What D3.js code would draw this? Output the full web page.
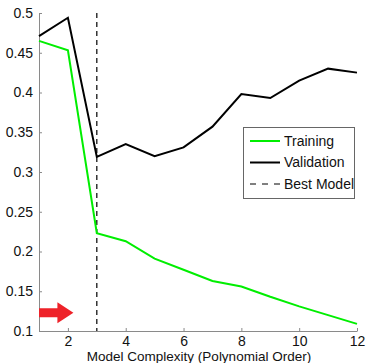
<!DOCTYPE html>
<html>
<head>
<meta charset="utf-8">
<script src="https://cdn.jsdelivr.net/npm/d3@7"></script>
<style>
  html, body { margin: 0; padding: 0; background: #fff; }
  svg { display: block; font-family: "Liberation Sans", Arial, sans-serif; }
</style>
</head>
<body>
<div id="chart"></div>
<script>
// -----------------------------
// DATA
// -----------------------------
const orders = [1, 2, 3, 4, 5, 6, 7, 8, 9, 10, 11, 12];
const training = [0.465, 0.453, 0.223, 0.213, 0.191, 0.177, 0.163, 0.156, 0.143, 0.131, 0.120, 0.109];
const validation = [0.471, 0.494, 0.319, 0.335, 0.320, 0.331, 0.357, 0.398, 0.393, 0.415, 0.430, 0.425];
const bestModel = 3;
const xTicks = [2, 4, 6, 8, 10, 12];
const yTicks = [0.1, 0.15, 0.2, 0.25, 0.3, 0.35, 0.4, 0.45, 0.5];
const legendLabels = ["Training", "Validation", "Best Model"];
const arrowSpan = [1, 2.19];
const arrowLevel = 0.123;

const width = 367, height = 363;
const margin = { top: 13, right: 10, bottom: 32, left: 39 };

const svg = d3.select("#chart").append("svg")
    .attr("width", width)
    .attr("height", height);

const x = d3.scaleLinear().domain([1, 12]).range([margin.left, width - margin.right]);
const y = d3.scaleLinear().domain([0.1, 0.5]).range([height - margin.bottom, margin.top]);

// -----------------------------
// AXES
// -----------------------------
const fmt = d => String(+d.toFixed(2));

const xAxis = svg.append("g")
    .attr("transform", `translate(0,${y(0.1)})`)
    .call(d3.axisBottom(x).tickValues(xTicks).tickFormat(fmt).tickSizeInner(-3).tickSizeOuter(0).tickPadding(5));

const yAxis = svg.append("g")
    .attr("transform", `translate(${x(1)},0)`)
    .call(d3.axisLeft(y).tickValues(yTicks).tickFormat(fmt).tickSizeInner(-3).tickSizeOuter(0).tickPadding(6));

[xAxis, yAxis].forEach(a => {
    a.select(".domain").attr("stroke", "#8a8a8a");
    a.selectAll(".tick line").attr("stroke", "#8a8a8a");
    a.selectAll(".tick text")
        .attr("fill", "#111")
        .style("font-size", "14px")
        .style("font-family", "Liberation Sans, Arial, sans-serif");
});

svg.append("text")
    .attr("x", (x(1) + x(12)) / 2 + 1)
    .attr("y", height - 2)
    .attr("text-anchor", "middle")
    .attr("fill", "#111")
    .style("font-size", "13.5px")
    .text("Model Complexity (Polynomial Order)");

// -----------------------------
// LINES
// -----------------------------
const line = d3.line()
    .x((d, i) => x(orders[i]))
    .y(d => y(d));

svg.append("line")
    .attr("x1", x(bestModel)).attr("x2", x(bestModel))
    .attr("y1", y(0.5)).attr("y2", y(0.1))
    .attr("stroke", "#000")
    .attr("stroke-width", 1.2)
    .attr("stroke-dasharray", "5,4");

svg.append("path")
    .datum(validation)
    .attr("fill", "none")
    .attr("stroke", "#000")
    .attr("stroke-width", 2)
    .attr("d", line);

svg.append("path")
    .datum(training)
    .attr("fill", "none")
    .attr("stroke", "#00ee00")
    .attr("stroke-width", 2)
    .attr("d", line);

// -----------------------------
// RED ARROW
// -----------------------------
const ax0 = x(arrowSpan[0]), ax1 = x(arrowSpan[1]), ay = y(arrowLevel);
const headLen = 16, bodyHalf = 4.5, headHalf = 10.5;
svg.append("path")
    .attr("fill", "#ee2229")
    .attr("d", `M${ax0},${ay - bodyHalf} L${ax1 - headLen},${ay - bodyHalf} L${ax1 - headLen},${ay - headHalf}
        L${ax1},${ay} L${ax1 - headLen},${ay + headHalf} L${ax1 - headLen},${ay + bodyHalf} L${ax0},${ay + bodyHalf} Z`);

// -----------------------------
// LEGEND
// -----------------------------
const legend = svg.append("g").attr("transform", "translate(243,127)");
legend.append("rect")
    .attr("x", 0.5).attr("y", 0.5)
    .attr("width", 111).attr("height", 71)
    .attr("fill", "#fff")
    .attr("stroke", "#666");

const legendStyles = [
    { stroke: "#00ee00", width: 2, dash: null },
    { stroke: "#000", width: 2, dash: null },
    { stroke: "#000", width: 1, dash: "6,6" }
];

legendLabels.forEach((label, i) => {
    const ly = 14 + i * 21.5;
    legend.append("line")
        .attr("x1", 7).attr("x2", 37)
        .attr("y1", ly).attr("y2", ly)
        .attr("stroke", legendStyles[i].stroke)
        .attr("stroke-width", legendStyles[i].width)
        .attr("stroke-dasharray", legendStyles[i].dash);
    legend.append("text")
        .attr("x", 41)
        .attr("y", ly)
        .attr("dy", "0.35em")
        .attr("fill", "#111")
        .style("font-size", "14px")
        .text(label);
});
</script>
</body>
</html>
